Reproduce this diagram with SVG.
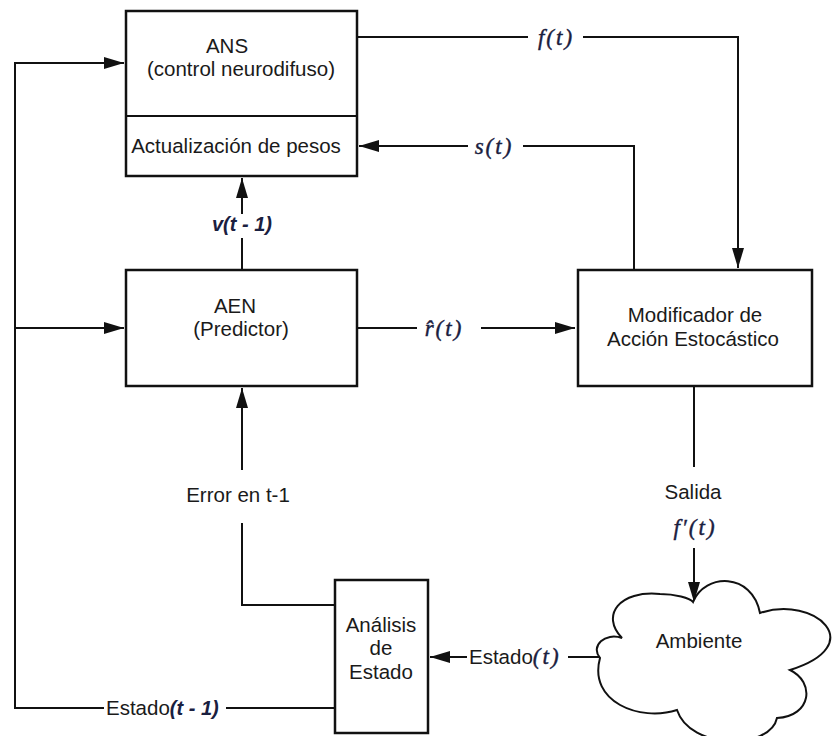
<svg xmlns="http://www.w3.org/2000/svg" width="832" height="736" viewBox="0 0 832 736">
<style>
.box{fill:#fff;stroke:#111;stroke-width:2.5}
.ln{fill:none;stroke:#111;stroke-width:2}
.t{font-family:"Liberation Sans",Arial,sans-serif;font-size:20.5px;fill:#1a1a1a}
.m{font-family:"Liberation Serif","Times New Roman",serif;font-style:italic;font-size:23px;fill:#1a2040;letter-spacing:2px;stroke:#1a2040;stroke-width:0.4}
.mi{font-family:"Liberation Sans",Arial,sans-serif;font-style:italic;font-weight:bold;font-size:20px;fill:#1a2040}
.c{text-anchor:middle}
</style>
<defs>
<marker id="ah" markerUnits="userSpaceOnUse" markerWidth="20" markerHeight="12" refX="20" refY="6" orient="auto">
<path d="M0,0 L20,6 L0,12 Z" fill="#111"/>
</marker>
</defs>
<rect width="832" height="736" fill="#fff"/>
<g id="connectors">
<path class="ln" d="M104 708 H15 V63 H124" marker-end="url(#ah)"/>
<path class="ln" d="M335 708 H226"/>
<path class="ln" d="M15 328 H124" marker-end="url(#ah)"/>
<path class="ln" d="M357 37 H528"/>
<path class="ln" d="M583 37 H738 V268" marker-end="url(#ah)"/>
<path class="ln" d="M634 270 V146 H523"/>
<path class="ln" d="M468 146 H359" marker-end="url(#ah)"/>
<path class="ln" d="M242 270 V238"/>
<path class="ln" d="M242 214 V178" marker-end="url(#ah)"/>
<path class="ln" d="M357 328 H417"/>
<path class="ln" d="M481 328 H575" marker-end="url(#ah)"/>
<path class="ln" d="M694 386 V467"/>
<path class="ln" d="M694 548 V602" marker-end="url(#ah)"/>
<path class="ln" d="M600 657 H568"/>
<path class="ln" d="M467 657 H430" marker-end="url(#ah)"/>
<path class="ln" d="M335 605 H242 V523"/>
<path class="ln" d="M242 470 V388" marker-end="url(#ah)"/>
</g>
<g id="ans">
<rect class="box" x="126" y="11" width="231" height="165"/>
<line class="ln" x1="126" y1="116" x2="357" y2="116" stroke-width="2.5"/>
<text class="t c" x="227" y="53">ANS</text>
<text class="t c" x="241" y="76">(control neurodifuso)</text>
<text class="t c" x="236" y="153">Actualización de pesos</text>
</g>
<g id="aen">
<rect class="box" x="126" y="270" width="231" height="116"/>
<text class="t c" x="235" y="313">AEN</text>
<text class="t c" x="241" y="336">(Predictor)</text>
</g>
<g id="modificador">
<rect class="box" x="578" y="270" width="234" height="116"/>
<text class="t c" x="695" y="322">Modificador de</text>
<text class="t c" x="693" y="346">Acción Estocástico</text>
</g>
<g id="analisis">
<rect class="box" x="335" y="580" width="93" height="153"/>
<text class="t c" x="381" y="632">Análisis</text>
<text class="t c" x="381" y="655">de</text>
<text class="t c" x="381" y="679">Estado</text>
</g>
<g id="ambiente">
<path fill="#fff" stroke="#111" stroke-width="2" d="M600 658 C590 646 605 632 622 638 C600 615 620 590 660 594 C675 594 690 598 693 602 C705 573 752 572 760 613 C815 595 870 645 790 670 C815 682 812 716 777 718 C770 750 690 750 677 710 C640 722 588 702 600 658 Z"/>
<text class="t c" x="699" y="648">Ambiente</text>
</g>
<g id="labels">
<text class="m c" x="556" y="45">f(t)</text>
<text class="m c" x="494" y="154">s(t)</text>
<text class="mi c" x="242" y="231">v(t - 1)</text>
<text class="m c" x="444" y="336">r&#770;(t)</text>
<text class="t c" x="693" y="499">Salida</text>
<text class="m c" x="695" y="535">f′(t)</text>
<text class="t c" x="238" y="502">Error en t-1</text>
<text x="469" y="664"><tspan class="t">Estado</tspan><tspan class="m">(t)</tspan></text>
<text x="106" y="715"><tspan class="t">Estado</tspan><tspan class="mi">(t - 1)</tspan></text>
</g>
</svg>
